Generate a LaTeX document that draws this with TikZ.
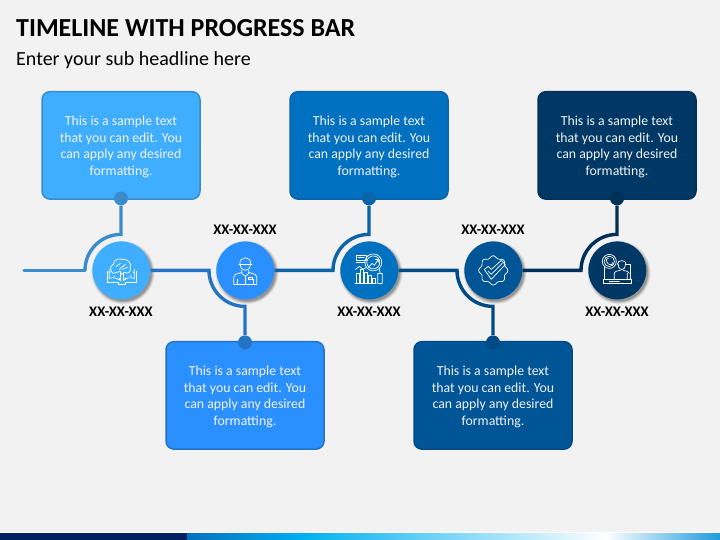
\documentclass[tikz,border=0pt]{standalone}
\usepackage{fontspec}
\setmainfont{Carlito}
\usetikzlibrary{calc}
\definecolor{bg}{HTML}{F2F2F2}
\definecolor{fa}{HTML}{3FAEFF}\definecolor{la}{HTML}{3A8CCC}
\definecolor{fb}{HTML}{2B90FF}\definecolor{lb}{HTML}{2474C4}
\definecolor{fc}{HTML}{0070C0}\definecolor{lc}{HTML}{0B63A8}
\definecolor{fd}{HTML}{005596}\definecolor{ld}{HTML}{004A85}
\definecolor{fe}{HTML}{003865}\definecolor{le}{HTML}{002F57}
\definecolor{navy}{HTML}{002060}\definecolor{sky}{HTML}{00B0F0}\definecolor{endblue}{HTML}{1C9BDD}
\tikzset{
  x=1pt,y=-1pt,
  card/.style={rounded corners=8pt,line width=1.5pt,minimum width=158pt,minimum height=107.5pt,inner sep=0pt,align=center,text=white!95!black,font=\fontsize{13.8}{16.7}\selectfont},
  hub/.style={circle,minimum size=58pt,inner sep=0pt},
  knob/.style={circle,minimum size=14pt,inner sep=0pt},
  datelabel/.style={font=\fontsize{14.6}{16}\selectfont\bfseries,text=black,inner sep=0pt},
  wire/.style={line width=3.4pt,line join=miter},
  ico/.style={draw=white,line width=.7pt,line cap=round,line join=round,fill=none}
}
\newcommand{\softshadow}[1]{%
  \foreach \r/\o in {31.5/.05,30.8/.07,30.1/.09,29.4/.11,28.7/.13}
    \fill[black,opacity=\o] ($(#1)+(1.8,2.2)$) circle (\r);}
\begin{document}
\begin{tikzpicture}
\useasboundingbox (0,0) rectangle (720,540);
\fill[bg] (0,0) rectangle (720,540);
% footer
\fill[white] (0,532) rectangle (720,533.5);
\fill[navy] (0,533) rectangle (187,540);
\shade[left color=fc,right color=sky] (187,533) rectangle (303,540);
\shade[left color=sky,right color=white] (303,533) rectangle (606,540);
\shade[left color=white,right color=endblue] (606,533) rectangle (720,540);
% headings
\node[anchor=west,inner sep=0pt,font=\fontsize{26}{28}\selectfont\bfseries] (title) at (16,28) {TIMELINE WITH PROGRESS BAR};
\node[anchor=west,inner sep=0pt,font=\fontsize{20}{22}\selectfont] (sub) at (16,60) {Enter your sub headline here};
% cards
\def\sample{\rule{0pt}{12.5pt}This is a sample text\\that you can edit. You\\can apply any desired\\formatting.}
\node[card,fill=fa,draw=la] (b1) at (121,145.4) {\sample};
\node[card,fill=fb,draw=lb] (b2) at (245,395.4) {\sample};
\node[card,fill=fc,draw=lc] (b3) at (369,145.4) {\sample};
\node[card,fill=fd,draw=ld] (b4) at (493,395.4) {\sample};
\node[card,fill=fe,draw=le] (b5) at (617,145.4) {\sample};
% anchors
\coordinate (s0) at (24,270.4);
\coordinate (a1) at (85,270.4);  \coordinate (t1) at (121,234.4);
\coordinate (a2) at (209,270.4); \coordinate (t2) at (245,306.4);
\coordinate (a3) at (333,270.4); \coordinate (t3) at (369,234.4);
\coordinate (a4) at (457,270.4); \coordinate (t4) at (493,306.4);
\coordinate (a5) at (581,270.4); \coordinate (t5) at (617,234.4);
% knobs
\node[knob,fill=la] (d1) at (121,198.4) {};
\node[knob,fill=lb] (d2) at (245,342.4) {};
\node[knob,fill=lc] (d3) at (369,198.4) {};
\node[knob,fill=ld] (d4) at (493,342.4) {};
\node[knob,fill=le] (d5) at (617,198.4) {};
% hub shadows
\coordinate (p1) at (121.3,270.4);\coordinate (p2) at (245.3,270.4);\coordinate (p3) at (369.3,270.4);\coordinate (p4) at (493.3,270.4);\coordinate (p5) at (617.3,270.4);
\foreach \i in {1,...,5} {\softshadow{p\i}}
% hubs
\node[hub,fill=fa] (c1) at (p1) {};
\node[hub,fill=fb] (c2) at (p2) {};
\node[hub,fill=fc] (c3) at (p3) {};
\node[hub,fill=fd] (c4) at (p4) {};
\node[hub,fill=fe] (c5) at (p5) {};
% connectors
\draw[wire,draw=la,line cap=round] (s0) -- (a1);
\draw[wire,draw=la] (a1) .. controls ($(a1)+(0,-19.9)$) and ($(t1)+(-19.9,0)$) .. (t1) -- (d1);
\draw[wire,draw=lb] (c1.east) -- (a2) .. controls ($(a2)+(0,19.9)$) and ($(t2)+(-19.9,0)$) .. (t2) -- (d2);
\draw[wire,draw=lc] (c2.east) -- (a3) .. controls ($(a3)+(0,-19.9)$) and ($(t3)+(-19.9,0)$) .. (t3) -- (d3);
\draw[wire,draw=ld] (c3.east) -- (a4) .. controls ($(a4)+(0,19.9)$) and ($(t4)+(-19.9,0)$) .. (t4) -- (d4);
\draw[wire,draw=le] (c4.east) -- (a5) .. controls ($(a5)+(0,-19.9)$) and ($(t5)+(-19.9,0)$) .. (t5) -- (d5);
% dates
\node[datelabel] (l1) at (121,311.5) {XX-XX-XXX};
\node[datelabel] (l2) at (245,229.5) {XX-XX-XXX};
\node[datelabel] (l3) at (369,311.5) {XX-XX-XXX};
\node[datelabel] (l4) at (493,229.5) {XX-XX-XXX};
\node[datelabel] (l5) at (617,311.5) {XX-XX-XXX};
% icon 1: brain over open book
\begin{scope}[shift={(c1.center)},ico]
\draw (-8,3) .. controls (-12,1) and (-11,-5) .. (-8,-6) .. controls (-7,-12) and (-1,-12) .. (1,-11) .. controls (6,-12) and (11,-7) .. (9,-3) .. controls (10,1) and (7,4) .. (3,2) -- (0,4) -- (-1,1) -- (-8,3);
\draw (-5,-4) -- (-1,-7) (-2,-1) -- (4,-6) (1,-1) -- (6,-3);
\draw (-1,2) -- (-1,10) (2,3) -- (2,10);
\draw (-1,10) .. controls (-5,7) and (-9,7) .. (-12,8) -- (-12,-1) (2,10) .. controls (5,7) and (9,7) .. (13,8) -- (13,-1);
\draw (-14,1) -- (-14,12) -- (-3,12) -- (-3,13.5) -- (4,13.5) -- (4,12) -- (15,12) -- (15,1);
\foreach \a in {-150,-125,-100,-75,-50,-30} \draw ($(0.5,-5)+(\a:13 and -13)$) -- ($(0.5,-5)+(\a:14.5 and -14.5)$);
\end{scope}
% icon 2: person with cap
\begin{scope}[shift={(c2.center)},ico]
\draw (-5.5,-6) .. controls (-6,-15) and (6,-15) .. (5.5,-6) (-6.5,-6) -- (6.5,-6);
\draw (-5,-6) .. controls (-5,2) and (5,2) .. (5,-6);
\draw (-3.5,0) -- (-3.5,3) -- (0,6) -- (3.5,3) -- (3.5,0);
\draw (-3.5,2) -- (-10,4) .. controls (-12,5) and (-11.5,7) .. (-11.5,14) -- (11.5,14) .. controls (11.5,7) and (12,5) .. (10,4) -- (3.5,2);
\draw (0,6) -- (0,14) (-8,9) -- (-8,14) (8,9) -- (8,14) (3,7) -- (7,7) -- (7,9) -- (3,9) -- cycle;
\end{scope}
% icon 3: chart and magnifier
\begin{scope}[shift={(c3.center)},ico]
\draw (4,-8) circle (8.5) (4,-8) circle (6.5);
\draw (-1,-3) -- (3,-7) -- (5,-5) -- (9,-11) (6,-11) -- (9,-11) -- (9,-8);
\draw (10,-1) -- (11,3) (8.5,3) rectangle (13,13);
\draw (-13,-15) rectangle (-3,-10) (-13,-8) -- (-4,-8) (-11,-13) -- (-5,-13);
\draw (-14,-1) -- (-10,-4) -- (-6,-1) -- (-3,-3);
\foreach \x/\h in {-13/3,-9/-1,-5/2,-1/5,3/8} \draw (\x,13) -- (\x,\h) -- (\x+3,\h) -- (\x+3,13);
\draw (-14,13) -- (7,13);
\end{scope}
% icon 4: gear with double check
\begin{scope}[shift={(c4.center)},ico]
\draw plot[smooth cycle,samples=48,domain=0:352.5] (\x:{13.5+1.2*cos(8*\x)} and {-13.5-1.2*cos(8*\x)});
\draw (-9,-1) -- (-5,-4) -- (-2,-1) -- (8,-10) -- (12,-6) -- (-2,9) -- cycle;
\draw (-5,1) -- (-2,4) -- (9,-7);
\end{scope}
% icon 5: support agent
\begin{scope}[shift={(c5.center)},ico]
\draw (-8,-9) circle (7) (-8,-9) circle (5.2);
\draw (-11,-11) .. controls (-11,-7) and (-8,-5) .. (-5,-6) (-11,-11) -- (-9,-12) (-5,-6) -- (-5,-8);
\draw (-13,-3) -- (-13,9) (13,9) -- (13,-6) -- (9,-6);
\draw (-14,9) rectangle (14,12.5);
\draw (0,-6) .. controls (0,-11) and (9,-11) .. (9,-6) (1,-6) .. controls (1,1) and (8,1) .. (8,-6);
\draw (-3,9) -- (-3,3) .. controls (-3,1) and (1,0) .. (3,0) (12,3) -- (10,1) -- (6,0) (10,9) -- (10,3);
\draw (-8,11) -- (2,11);
\end{scope}
\end{tikzpicture}
\end{document}
